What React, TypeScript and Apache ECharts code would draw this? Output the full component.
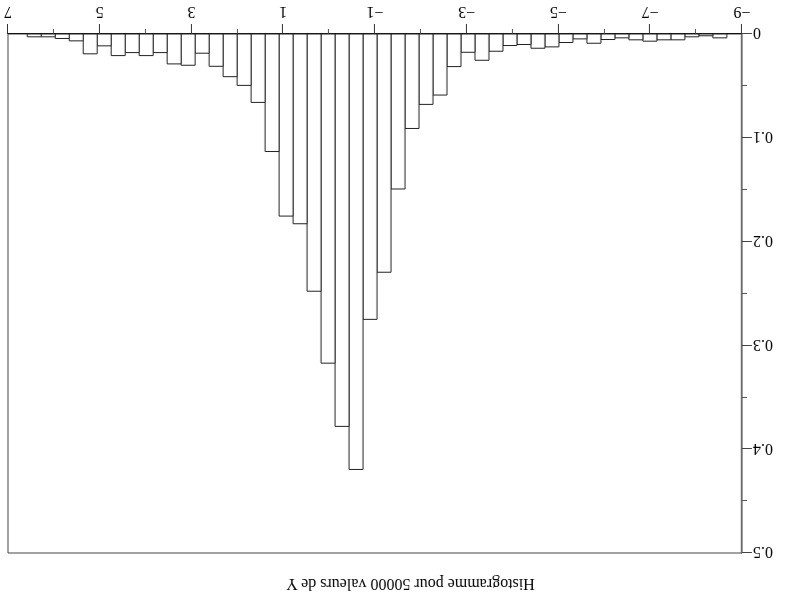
import React, { useEffect, useRef } from "react";
import * as echarts from "echarts";

// Histogram bins (true x units), 50 bins of equal width
const BIN_START = -8.67;
const BIN_WIDTH = 0.305;
// Density per bin, from the lowest x bin to the highest
const densities = [
  0.0037, 0.0017, 0.0027, 0.0056, 0.0056, 0.0069, 0.0056, 0.0037, 0.0053, 0.0089,
  0.0047, 0.0082, 0.0124, 0.0137, 0.0101, 0.0111, 0.0166, 0.0253, 0.0176, 0.0314,
  0.0588, 0.0678, 0.091, 0.1493, 0.2295, 0.2749, 0.4195, 0.378, 0.3171, 0.2478,
  0.1828, 0.1754, 0.1132, 0.0659, 0.0495, 0.0411, 0.0311, 0.0185, 0.0301, 0.0288,
  0.0179, 0.0208, 0.0179, 0.0208, 0.0114, 0.0191, 0.0066, 0.0043, 0.0027, 0.0027,
];
// x axis runs from -9 to 7; the axis itself is offset so its min is a multiple of the interval
const X_MIN = -9;
const X_MAX = 7;
const X_OFFSET = 9;
const Y_MAX = 0.5;
const TITLE = "Histogramme pour 50000 valeurs de Y";

const FONT = '"Liberation Serif", "DejaVu Serif", serif';

export default function App() {
  const ref = useRef<HTMLDivElement>(null);
  useEffect(() => {
    if (!ref.current) return;
    const chart = echarts.init(ref.current, undefined, { renderer: "svg" });
    const data = densities.map((d, i) => [
      BIN_START + i * BIN_WIDTH,
      BIN_START + (i + 1) * BIN_WIDTH,
      d,
    ]);
    const fmtX = (v: number) => {
      const t = Math.round(v - X_OFFSET);
      return t < 0 ? "\u2212" + Math.abs(t) : String(t);
    };
    chart.setOption({
      animation: false,
      backgroundColor: "#fff",
      grid: {
        left: 45,
        right: 8,
        top: 57,
        bottom: 34,
        show: true,
        borderColor: "#444",
        borderWidth: 1,
      },
      xAxis: {
        type: "value",
        min: X_MIN + X_OFFSET,
        max: X_MAX + X_OFFSET,
        interval: 2,
        axisLine: { show: true, lineStyle: { color: "#111", width: 1 } },
        axisTick: { show: true, length: 10, lineStyle: { color: "#333" } },
        minorTick: { show: true, splitNumber: 2, length: 5, lineStyle: { color: "#555" } },
        splitLine: { show: false },
        minorSplitLine: { show: false },
        axisLabel: {
          formatter: fmtX,
          margin: 13,
          color: "#000",
          fontFamily: FONT,
          fontSize: 16,
        },
      },
      yAxis: {
        type: "value",
        min: 0,
        max: Y_MAX,
        interval: 0.1,
        axisLine: { show: true, lineStyle: { color: "#666", width: 1.3 } },
        axisTick: { show: true, length: 10, lineStyle: { color: "#444" } },
        minorTick: { show: true, splitNumber: 2, length: 5, lineStyle: { color: "#555" } },
        splitLine: { show: false },
        axisLabel: {
          margin: 11,
          color: "#000",
          fontFamily: FONT,
          fontSize: 16,
        },
      },
      graphic: [
        {
          type: "text",
          x: 376.5,
          y: 25,
          style: {
            text: TITLE,
            font: `16px ${FONT}`,
            fill: "#000",
            textAlign: "center",
            textVerticalAlign: "middle",
          },
        },
      ],
      series: [
        {
          type: "custom",
          data,
          encode: { x: [0, 1], y: 2 },
          renderItem: (_params: any, api: any) => {
            const x0 = api.value(0);
            const x1 = api.value(1);
            const h = api.value(2);
            const p0 = api.coord([x0 + X_OFFSET, 0]);
            const p1 = api.coord([x1 + X_OFFSET, h]);
            return {
              type: "rect",
              shape: {
                x: p0[0],
                y: p1[1],
                width: p1[0] - p0[0],
                height: p0[1] - p1[1],
              },
              style: { fill: "#fff", stroke: "#222", lineWidth: 1 },
            };
          },
        },
      ],
    });
    return () => chart.dispose();
  }, []);
  return (
    <div
      ref={ref}
      style={{
        position: "fixed",
        left: 0,
        top: 0,
        width: 787,
        height: 610,
        transform: "rotate(180deg)",
        background: "#fff",
      }}
    />
  );
}
